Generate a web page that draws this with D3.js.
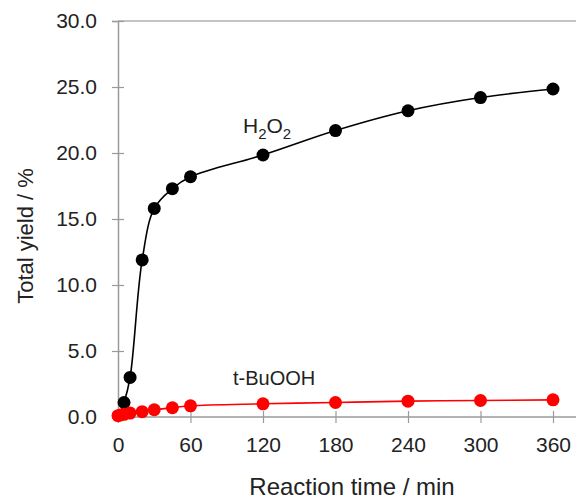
<!DOCTYPE html>
<html><head><meta charset="utf-8">
<script src="https://cdn.jsdelivr.net/npm/d3@7"></script>
<style>body{margin:0;background:#fff}svg{display:block}text{font-family:"Liberation Sans",Arial,sans-serif;fill:#222}</style>
</head><body>
<svg id="c" width="576" height="501"></svg>
<script>
const h2o2Time = [0, 5, 10, 20, 30, 45, 60, 120, 180, 240, 300, 360];
const h2o2Yield = [0, 1.1, 3.0, 11.9, 15.8, 17.3, 18.2, 19.85, 21.7, 23.2, 24.2, 24.85];
const tbuTime = [0, 2, 5, 10, 20, 30, 45, 60, 120, 180, 240, 300, 360];
const tbuYield = [0.1, 0.15, 0.2, 0.3, 0.4, 0.55, 0.7, 0.85, 1.0, 1.1, 1.2, 1.25, 1.3];
const xTicks = [0, 60, 120, 180, 240, 300, 360];
const yTicks = [0, 5, 10, 15, 20, 25, 30];

const svg = d3.select("#c");
const x = d3.scaleLinear().domain([0, 360]).range([118, 553]);
const y = d3.scaleLinear().domain([0, 30]).range([417, 21]);
const axisColor = "#9a9a9a";

// frame top
svg.append("line").attr("x1", 118).attr("x2", 576).attr("y1", y(30)).attr("y2", y(30))
  .attr("stroke", "#c4c4c4").attr("stroke-width", 2);

// y axis
const ya = svg.append("g").attr("transform", "translate(118,0)")
  .call(d3.axisLeft(y).tickValues(yTicks).tickFormat(d3.format(".1f")).tickSize(6).tickPadding(15));
ya.select(".domain").attr("stroke", axisColor).attr("stroke-width", 1.5);
ya.selectAll(".tick line").attr("stroke", axisColor).attr("x2", 6).attr("x1", -6).attr("stroke-width", 1.2);
ya.selectAll(".tick text").attr("font-size", 21).attr("fill", "#222").attr("font-family", "Liberation Sans, Arial, sans-serif");

// x axis
const xa = svg.append("g").attr("transform", `translate(0,${y(0)})`)
  .call(d3.axisBottom(x).tickValues(xTicks).tickFormat(d3.format("d")).tickSize(6).tickPadding(14));
xa.select(".domain").attr("stroke", axisColor).attr("stroke-width", 1.5).attr("d", "M118,0H576");
xa.selectAll(".tick line").attr("stroke", axisColor).attr("y1", -6).attr("y2", 6).attr("stroke-width", 1.2);
xa.selectAll(".tick text").attr("font-size", 21).attr("fill", "#222").attr("font-family", "Liberation Sans, Arial, sans-serif");

// titles
svg.append("text").attr("x", 352).attr("y", 495).attr("text-anchor", "middle")
  .attr("font-size", 24).text("Reaction time / min");
svg.append("text").attr("transform", "translate(33,236) rotate(-90)").attr("text-anchor", "middle")
  .attr("font-size", 22).text("Total yield / %");

const line = d3.line().curve(d3.curveCatmullRom.alpha(0.5));
const h2o2 = h2o2Time.map((t, i) => [x(t), y(h2o2Yield[i])]);
const tbu = tbuTime.map((t, i) => [x(t), y(tbuYield[i])]);

svg.append("path").attr("d", line(h2o2)).attr("fill", "none").attr("stroke", "#000").attr("stroke-width", 1.6);
svg.selectAll(".pb").data(h2o2.slice(1)).enter().append("circle")
  .attr("cx", d => d[0]).attr("cy", d => d[1]).attr("r", 6.5).attr("fill", "#000");

svg.append("path").attr("d", line(tbu)).attr("fill", "none").attr("stroke", "#ff0000").attr("stroke-width", 1.6);
svg.selectAll(".pr").data(tbu).enter().append("circle")
  .attr("cx", d => d[0]).attr("cy", d => d[1]).attr("r", 6.5).attr("fill", "#ff0000");

// labels
const hl = svg.append("text").attr("x", 243).attr("y", 133).attr("font-size", 21);
hl.append("tspan").text("H");
hl.append("tspan").attr("dy", 6).attr("font-size", 15).text("2");
hl.append("tspan").attr("dy", -6).text("O");
hl.append("tspan").attr("dy", 6).attr("font-size", 15).text("2");
svg.append("text").attr("x", 233).attr("y", 385).attr("font-size", 20).text("t-BuOOH");
</script>
</body></html>
